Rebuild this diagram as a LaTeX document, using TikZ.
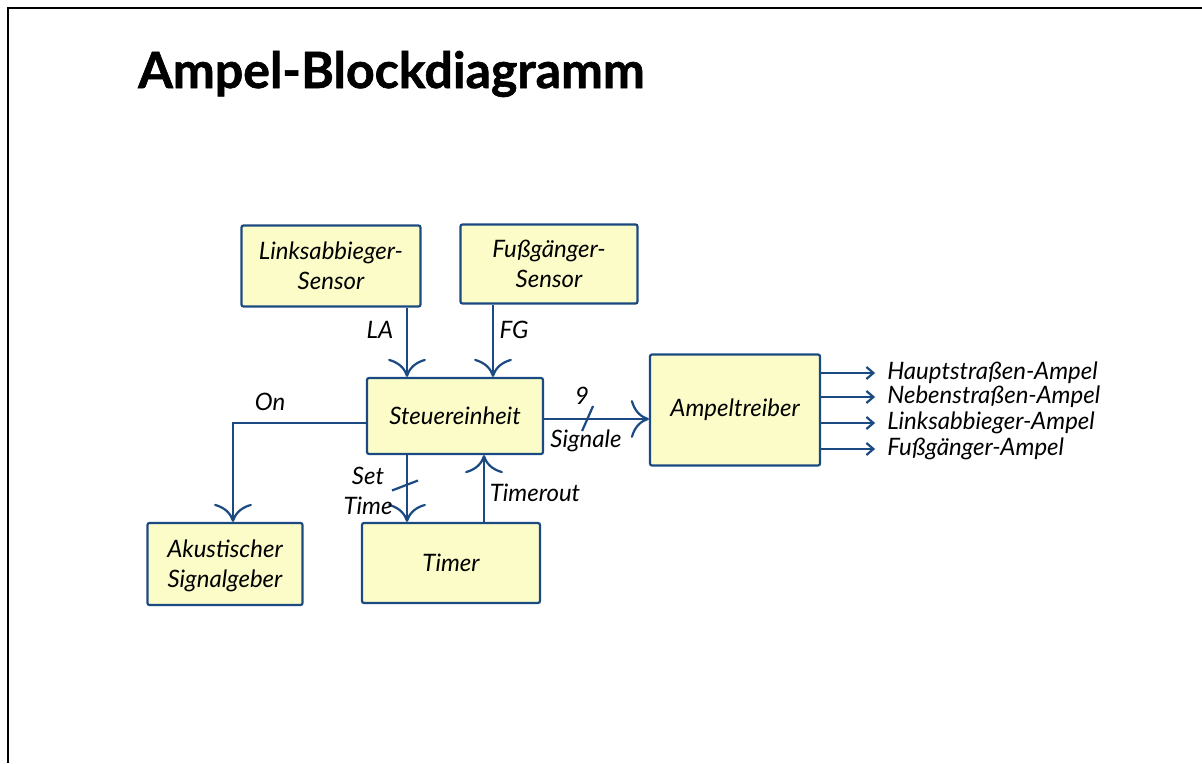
\documentclass[tikz,border=0pt]{standalone}
\usepackage{fontspec}
\setmainfont{Lato}
\newfontfamily\titlefont[BoldFeatures={FakeBold=1.2}]{Lato}
\usetikzlibrary{arrows.meta}
\definecolor{inkblue}{HTML}{1B4A82}
\definecolor{boxfill}{HTML}{FCFCC8}

\begin{document}
\begin{tikzpicture}[x=1pt,y=-1pt,
    block/.style={draw=inkblue, fill=boxfill, line width=2.2pt, align=center, inner sep=0pt,
        rounded corners=2pt, font=\itshape\fontsize{24}{30}\selectfont},
    lbl/.style={inner sep=0pt, font=\itshape\fontsize{24}{28}\selectfont},
    flow/.style={draw=inkblue, line width=2.2pt, -{Computer Modern Rightarrow[scale=2.8]}},
    outflow/.style={draw=inkblue, line width=2.2pt, -{Straight Barb[length=7pt,width=12pt]}},
    wire/.style={draw=inkblue, line width=2.2pt}]

\useasboundingbox (0,0) rectangle (1202,763);
\draw[line width=2.4pt] (8,763) -- (8,8) -- (1202,8);

\node[anchor=base west, inner sep=0pt, font=\titlefont\bfseries\fontsize{50}{54}\selectfont] (title) at (138,88) {Ampel-Blockdiagramm};

% blocks
\node[block, minimum width=179, minimum height=81, text depth=-8pt] (links) at (331,266) {Linksabbieger-\\Sensor};
\node[block, minimum width=177, minimum height=79, text depth=-8pt] (fuss) at (549,264) {Fußgänger-\\Sensor};
\node[block, minimum width=176, minimum height=76] (steuer) at (455,416) {Steuereinheit};
\node[block, minimum width=170, minimum height=111] (ampel) at (735,410) {Ampeltreiber};
\node[block, minimum width=155, minimum height=82, text depth=-4pt] (akust) at (225,564) {Akustischer\\Signalgeber};
\node[block, minimum width=178, minimum height=80] (timer) at (451,563) {Timer};

% sensors to control unit
\draw[flow] ([xshift=76]links.south) -- ([xshift=76]links.south |- steuer.north);
\node[lbl] (la) at (380,330) {LA};
\draw[flow] ([xshift=-56]fuss.south) -- ([xshift=-56]fuss.south |- steuer.north);
\node[lbl] (fg) at (514,330) {FG};

% control unit to buzzer
\draw[flow] ([yshift=-7]steuer.west) -| ([xshift=8]akust.north);
\node[lbl] (on) at (270,402) {On};

% control unit and timer
\draw[flow] ([xshift=-48]steuer.south) -- coordinate[pos=0.47] (st) ([xshift=-48]steuer.south |- timer.north);
\draw[wire] ([shift={(-15,4)}]st) -- ([shift={(11,-6)}]st);
\node[lbl] (set) at (368,476) {Set};
\node[lbl] (time) at (368,506) {Time};
\draw[flow] ([xshift=33]timer.north) -- ([xshift=33]timer.north |- steuer.south);
\node[lbl] (tout) at (535,493) {Timerout};

% control unit to driver
\draw[flow] ([yshift=-3]steuer.east) -- coordinate[pos=0.41] (sg) ([yshift=-3]steuer.east -| ampel.west);
\draw[wire] ([shift={(-5,12)}]sg) -- ([shift={(6,-13)}]sg);
\node[lbl] (nine) at (582,396) {9};
\node[lbl] (sig) at (586,441) {Signale};

% outputs
\foreach \i/\y/\txt in {1/373/Hauptstraßen-Ampel, 2/397/Nebenstraßen-Ampel, 3/423/Linksabbieger-Ampel, 4/449/Fußgänger-Ampel} {
    \draw[outflow] (ampel.east |- 0,\y) -- ++(54,0) coordinate (e\i);
    \node[lbl, anchor=west] (o\i) at ([xshift=12]e\i) {\txt};
}
\end{tikzpicture}
\end{document}
